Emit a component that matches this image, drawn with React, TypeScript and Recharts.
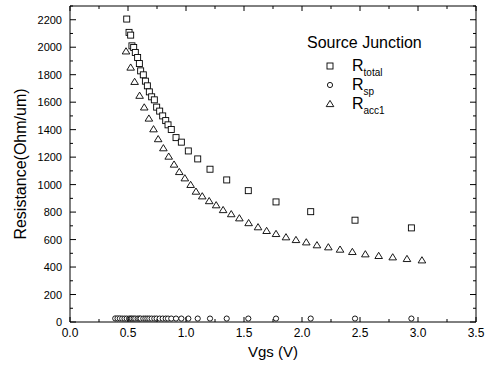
import { ScatterChart, Scatter, XAxis, YAxis, Legend } from 'recharts'

// Vgs (V) / resistance (Ohm/um)
const vgsTotal = [0.489, 0.509, 0.523, 0.534, 0.549, 0.563, 0.583, 0.598, 0.609, 0.632, 0.65, 0.667, 0.684, 0.704, 0.727, 0.747, 0.773, 0.799, 0.825, 0.845, 0.873, 0.914, 0.96, 1.02, 1.101, 1.207, 1.351, 1.537, 1.776, 2.075, 2.457, 2.943]
const rTotal = [2205, 2108, 2088, 2010, 1998, 1962, 1925, 1881, 1828, 1799, 1753, 1719, 1675, 1639, 1617, 1564, 1535, 1500, 1466, 1435, 1401, 1342, 1309, 1245, 1187, 1112, 1034, 956, 874, 803, 741, 685]

const vgsSp = [0.39, 0.41, 0.43, 0.45, 0.47, 0.489, 0.509, 0.523, 0.534, 0.549, 0.563, 0.583, 0.598, 0.609, 0.632, 0.65, 0.667, 0.684, 0.704, 0.727, 0.747, 0.773, 0.799, 0.825, 0.845, 0.873, 0.914, 0.96, 1.02, 1.101, 1.207, 1.351, 1.537, 1.776, 2.075, 2.457, 2.943]
const rSp = [26, 26, 26, 25, 25, 25, 25, 25, 25, 25, 25, 25, 25, 25, 25, 25, 25, 25, 25, 25, 25, 25, 25, 25, 25, 25, 25, 25, 25, 25, 25, 25, 25, 25, 25, 25, 25]

const vgsAcc1 = [0.483, 0.523, 0.557, 0.6, 0.64, 0.68, 0.72, 0.76, 0.805, 0.851, 0.897, 0.942, 0.99, 1.04, 1.086, 1.14, 1.2, 1.26, 1.32, 1.39, 1.46, 1.54, 1.621, 1.695, 1.776, 1.862, 1.948, 2.037, 2.129, 2.227, 2.328, 2.434, 2.546, 2.661, 2.782, 2.905, 3.034]
const rAcc1 = [1970, 1852, 1748, 1647, 1562, 1481, 1403, 1331, 1265, 1204, 1146, 1092, 1046, 998, 949, 915, 880, 850, 815, 785, 755, 720, 690, 663, 641, 617, 597, 580, 559, 544, 527, 510, 493, 481, 471, 459, 449]

const xTicks = [0, 0.25, 0.5, 0.75, 1, 1.25, 1.5, 1.75, 2, 2.25, 2.5, 2.75, 3, 3.25, 3.5]
const yTicks = [0, 100, 200, 300, 400, 500, 600, 700, 800, 900, 1000, 1100, 1200, 1300, 1400, 1500, 1600, 1700, 1800, 1900, 2000, 2100, 2200, 2300]

const totalData = vgsTotal.map((x, i) => ({ x, y: rTotal[i] }))
const spData = vgsSp.map((x, i) => ({ x, y: rSp[i] }))
const acc1Data = vgsAcc1.map((x, i) => ({ x, y: rAcc1[i] }))

const FONT = 'Arial, "Liberation Sans", sans-serif'

const isMajorX = (v: number) => Math.abs(v * 2 - Math.round(v * 2)) < 1e-6
const isMajorY = (v: number) => v % 200 === 0

const Square = (p: any) => (
  <rect x={p.cx - 3} y={p.cy - 3} width={6} height={6} fill="#fff" stroke="#000" strokeWidth={0.9} />
)
const Circle = (p: any) => (
  <circle cx={p.cx} cy={p.cy} r={2.6} fill="#fff" stroke="#000" strokeWidth={0.9} />
)
const Triangle = (p: any) => (
  <path d={`M${p.cx},${p.cy - 3.6} L${p.cx + 3.8},${p.cy + 2.6} L${p.cx - 3.8},${p.cy + 2.6} Z`} fill="#fff" stroke="#000" strokeWidth={0.9} />
)
const Nothing = () => null

const BottomTick = ({ x, y, payload }: any) => {
  const major = isMajorX(payload.value)
  return (
    <g>
      <line x1={x} x2={x} y1={y} y2={y - (major ? 5 : 3)} stroke="#000" />
      {major && (
        <text x={x} y={y + 15} textAnchor="middle" fontSize={12} fontFamily={FONT} fill="#000">
          {payload.value.toFixed(1)}
        </text>
      )}
    </g>
  )
}

const TopTick = ({ x, y, payload }: any) => (
  <line x1={x} x2={x} y1={y} y2={y + (isMajorX(payload.value) ? 5 : 3)} stroke="#000" />
)

const LeftTick = ({ x, y, payload }: any) => {
  const major = isMajorY(payload.value)
  return (
    <g>
      <line x1={x} x2={x + (major ? 6 : 3)} y1={y} y2={y} stroke="#000" />
      {major && (
        <text x={x - 8} y={y + 4} textAnchor="end" fontSize={11} fontFamily={FONT} fill="#000">
          {payload.value}
        </text>
      )}
    </g>
  )
}

const RightTick = ({ x, y, payload }: any) => (
  <line x1={x} x2={x - (isMajorY(payload.value) ? 6 : 3)} y1={y} y2={y} stroke="#000" />
)

const legendRows = [
  { name: 'R', sub: 'total', shape: 'square', y: 66 },
  { name: 'R', sub: 'sp', shape: 'circle', y: 85 },
  { name: 'R', sub: 'acc1', shape: 'triangle', y: 104 },
]

const LegendBox = () => (
  <div style={{ position: 'absolute', left: 0, top: 0, width: 492, height: 374, fontFamily: FONT, color: '#000', pointerEvents: 'none' }}>
    <div style={{ position: 'absolute', left: 307, top: 34, fontSize: 16, lineHeight: '18px', whiteSpace: 'nowrap' }}>Source Junction</div>
    {legendRows.map((r) => (
      <div key={r.sub}>
        <svg style={{ position: 'absolute', left: 324, top: r.y - 6 }} width={12} height={12}>
          {r.shape === 'square' && <Square cx={6} cy={6} />}
          {r.shape === 'circle' && <Circle cx={6} cy={6} />}
          {r.shape === 'triangle' && <Triangle cx={6} cy={6} />}
        </svg>
        <div style={{ position: 'absolute', left: 352, top: r.y - 9, fontSize: 16, lineHeight: '18px', whiteSpace: 'nowrap' }}>
          {r.name}
          <span style={{ fontSize: 10, position: 'relative', top: 5 }}>{r.sub}</span>
        </div>
      </div>
    ))}
  </div>
)

export default function App() {
  return (
    <div style={{ position: 'absolute', left: 0, top: 0, width: 492, height: 374, background: '#fff' }}>
      <ScatterChart width={492} height={374} margin={{ top: 5, right: 15, left: 0, bottom: 0 }}>
        <XAxis
          dataKey="x"
          type="number"
          domain={[0, 3.5]}
          ticks={xTicks}
          interval={0}
          height={52}
          tickSize={0}
          tickMargin={0}
          tickLine={false}
          tick={<BottomTick />}
          axisLine={{ stroke: '#000' }}
          label={{
            content: () => (
              <text x={273} y={357} textAnchor="middle" fontSize={15} fontFamily={FONT} fill="#000">Vgs (V)</text>
            ),
          }}
        />
        <XAxis
          xAxisId="top"
          dataKey="x"
          orientation="top"
          type="number"
          domain={[0, 3.5]}
          ticks={xTicks}
          interval={0}
          height={1}
          tickSize={0}
          tickMargin={0}
          tickLine={false}
          tick={<TopTick />}
          axisLine={{ stroke: '#000' }}
        />
        <YAxis
          dataKey="y"
          type="number"
          domain={[0, 2300]}
          ticks={yTicks}
          interval={0}
          width={70}
          tickSize={0}
          tickMargin={0}
          tickLine={false}
          tick={<LeftTick />}
          axisLine={{ stroke: '#000' }}
          label={{
            content: () => (
              <text x={20} y={164} transform="rotate(-90 20 164)" textAnchor="middle" dominantBaseline="central" fontSize={16} fontFamily={FONT} fill="#000">
                Resistance(Ohm/um)
              </text>
            ),
          }}
        />
        <YAxis
          yAxisId="right"
          dataKey="y"
          orientation="right"
          type="number"
          domain={[0, 2300]}
          ticks={yTicks}
          interval={0}
          width={1}
          tickSize={0}
          tickMargin={0}
          tickLine={false}
          tick={<RightTick />}
          axisLine={{ stroke: '#000' }}
        />
        <Scatter name="frame" xAxisId="top" yAxisId="right" data={spData} shape={Nothing} isAnimationActive={false} legendType="none" />
        <Scatter name="Rsp" data={spData} shape={Circle} isAnimationActive={false} />
        <Scatter name="Racc1" data={acc1Data} shape={Triangle} isAnimationActive={false} />
        <Scatter name="Rtotal" data={totalData} shape={Square} isAnimationActive={false} />
        <Legend layout="horizontal" verticalAlign="middle" align="center" content={() => null} />
      </ScatterChart>
      <LegendBox />
    </div>
  )
}
